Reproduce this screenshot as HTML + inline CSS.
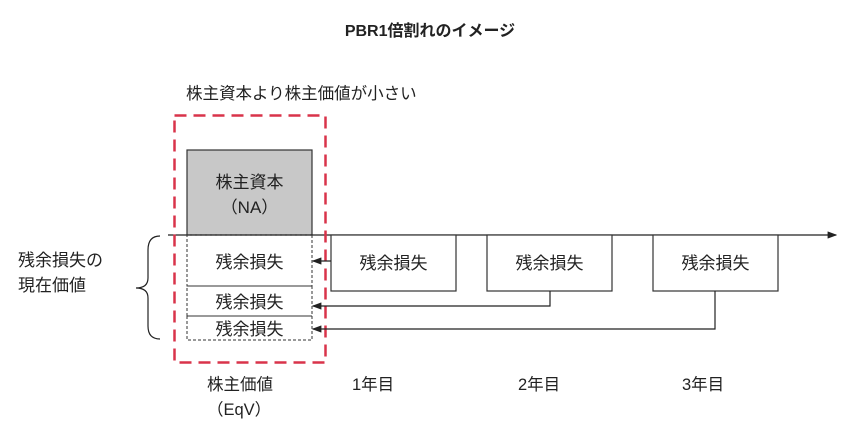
<!DOCTYPE html>
<html><head><meta charset="utf-8"><style>
body{margin:0;background:#fff;width:860px;height:435px;overflow:hidden}
svg text{font-family:"Liberation Sans","Noto Sans CJK JP",sans-serif;fill:#222}
</style></head><body>
<svg width="860" height="435" viewBox="0 0 860 435">
<defs><marker id="a" markerWidth="8" markerHeight="6" refX="7" refY="3" orient="auto"><path d="M0,0L8,3L0,6z" fill="#222"/></marker></defs>
<text x="430" y="36" font-size="16" font-weight="bold" text-anchor="middle">PBR1倍割れのイメージ</text>
<text x="186" y="99" font-size="16.5">株主資本より株主価値が小さい</text>
<rect x="187" y="150" width="125" height="85" fill="#c8c8c8" stroke="#333" stroke-width="1.2"/>
<text x="249.5" y="188" font-size="17" text-anchor="middle">株主資本</text>
<text x="249.5" y="213" font-size="17" text-anchor="middle">（NA）</text>
<line x1="168" y1="235" x2="836" y2="235" stroke="#222" stroke-width="1.2" marker-end="url(#a)"/>
<g fill="none" stroke="#333" stroke-dasharray="3,2" stroke-width="1">
<rect x="187" y="235" width="125" height="51"/>
<rect x="187" y="286" width="125" height="30"/>
<rect x="187" y="316" width="125" height="24"/>
</g>
<text x="249.5" y="268" font-size="17" text-anchor="middle">残余損失</text>
<text x="249.5" y="308" font-size="17" text-anchor="middle">残余損失</text>
<text x="249.5" y="335" font-size="17" text-anchor="middle">残余損失</text>
<rect x="174.5" y="115.5" width="151" height="247" fill="none" stroke="#d9334a" stroke-width="2.5" stroke-dasharray="12,7"/>
<g fill="#fff" stroke="#333" stroke-width="1.2">
<rect x="331" y="235" width="125" height="56"/>
<rect x="487" y="235" width="125" height="56"/>
<rect x="653" y="235" width="125" height="56"/>
</g>
<text x="393.5" y="269" font-size="17" text-anchor="middle">残余損失</text>
<text x="549.5" y="269" font-size="17" text-anchor="middle">残余損失</text>
<text x="715.5" y="269" font-size="17" text-anchor="middle">残余損失</text>
<g fill="none" stroke="#222" stroke-width="1.2">
<line x1="331" y1="261" x2="313" y2="261" marker-end="url(#a)"/>
<polyline points="550,291 550,306 313,306" marker-end="url(#a)"/>
<polyline points="715,291 715,329 313,329" marker-end="url(#a)"/>
<path d="M160,236 Q148,236 148,250 L148,278 Q148,288 136,288 Q148,288 148,298 L148,326 Q148,339 160,339"/>
</g>
<text x="18" y="266" font-size="17">残余損失の</text>
<text x="18" y="291" font-size="17">現在価値</text>
<text x="207" y="390" font-size="16.5">株主価値</text>
<text x="207" y="415" font-size="16.5">（EqV）</text>
<text x="352" y="390" font-size="16.5">1年目</text>
<text x="518" y="390" font-size="16.5">2年目</text>
<text x="682" y="390" font-size="16.5">3年目</text>
</svg>
</body></html>
